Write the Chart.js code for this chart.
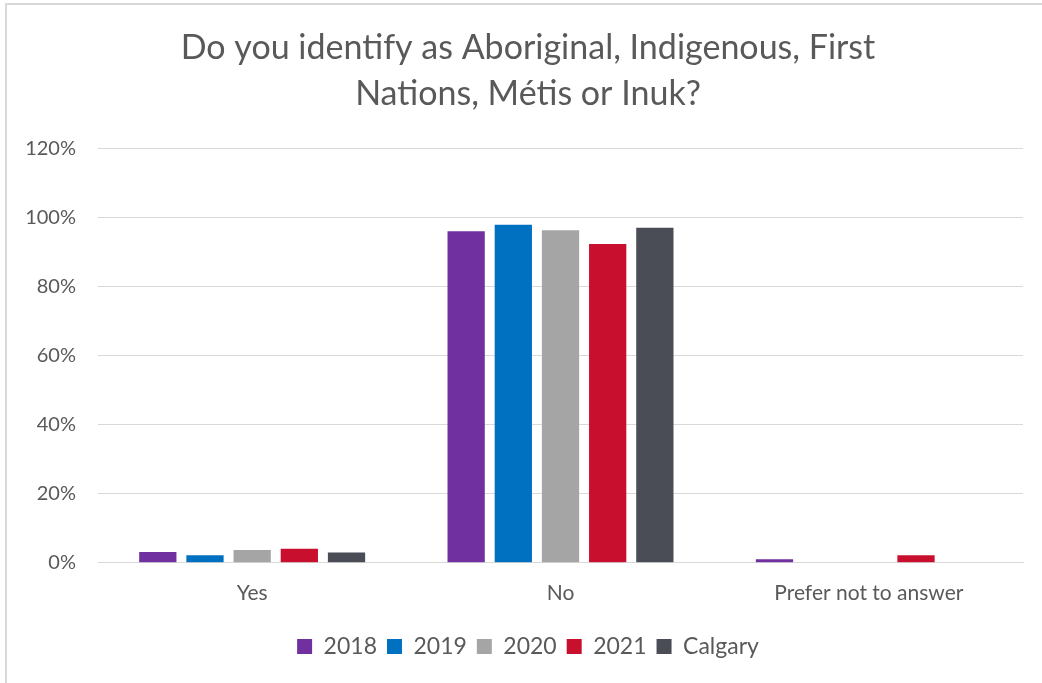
<!DOCTYPE html>
<html>
<head>
<meta charset="utf-8">
<script src="https://cdn.jsdelivr.net/npm/chart.js@4"></script>
<style>
  html, body { margin: 0; padding: 0; background: #fff; overflow: hidden; }
  #frame {
    position: absolute; left: 5px; top: 3px;
    width: 1046px; height: 700px;
    border: 2px solid #d9d9d9; background: #fff;
  }
  #wrap { position: absolute; left: 0; top: 0; width: 1046px; height: 680px; }
</style>
</head>
<body>
<div id="frame"><div id="wrap"><canvas id="chart"></canvas></div></div>
<script>
// --- data ---
const categories = ['Yes', 'No', 'Prefer not to answer'];
const seriesNames = ['2018', '2019', '2020', '2021', 'Calgary'];
const values2018 = [3.1, 96.1, 1.0];
const values2019 = [2.2, 98.0, 0];
const values2020 = [3.7, 96.4, 0];
const values2021 = [4.1, 92.4, 2.2];
const valuesCalgary = [3.0, 97.1, 0];
const yTicks = [0, 20, 40, 60, 80, 100, 120];

const colors = ['#7030a0', '#0070c0', '#a5a5a5', '#c8102e', '#4a4d55'];
const allValues = [values2018, values2019, values2020, values2021, valuesCalgary];

const textGrey = '#595959';
const fontFamily = 'Lato, "Open Sans", sans-serif';

// let the y labels spill into the left padding instead of being clipped
const labelRoom = {
    id: 'labelRoom',
    afterLayout: chart => { chart.scales.y.left = 0; }
};

const ctx = document.getElementById('chart');
new Chart(ctx.getContext('2d'), {
    type: 'bar',
    data: {
        labels: categories,
        datasets: seriesNames.map((name, i) => ({
            label: name,
            data: allValues[i],
            backgroundColor: colors[i],
            borderWidth: 0,
            categoryPercentage: 0.765,
            barPercentage: 0.79
        }))
    },
    plugins: [labelRoom],
    options: {
        responsive: true,
        maintainAspectRatio: false,
        animation: false,
        layout: { padding: { left: 26, right: 30, top: 20, bottom: 17 } },
        plugins: {
            title: {
                display: true,
                text: ['Do you identify as Aboriginal, Indigenous, First', 'Nations, Métis or Inuk?'],
                color: textGrey,
                font: { family: fontFamily, size: 34, weight: 'normal', lineHeight: 1.35 },
                padding: { top: 0, bottom: 32 }
            },
            legend: {
                position: 'bottom',
                labels: {
                    color: textGrey,
                    font: { family: fontFamily, size: 23 },
                    boxWidth: 15,
                    boxHeight: 15,
                    padding: 10
                }
            },
            tooltip: { enabled: false }
        },
        scales: {
            x: {
                afterFit: scale => { scale.height += 1; },
                grid: { display: false, drawTicks: false },
                border: { color: '#d9d9d9', width: 1 },
                ticks: { color: textGrey, font: { family: fontFamily, size: 21 }, padding: 18 }
            },
            y: {
                min: 0,
                max: 120,
                afterBuildTicks: scale => { scale.ticks = yTicks.map(v => ({ value: v })); },
                afterFit: scale => { scale.width = 65; },
                grid: { color: '#d9d9d9', drawTicks: false },
                border: { display: false },
                ticks: {
                    color: textGrey,
                    font: { family: fontFamily, size: 20 },
                    padding: 22,
                    callback: v => v + '%'
                }
            }
        }
    }
});
</script>
</body>
</html>
